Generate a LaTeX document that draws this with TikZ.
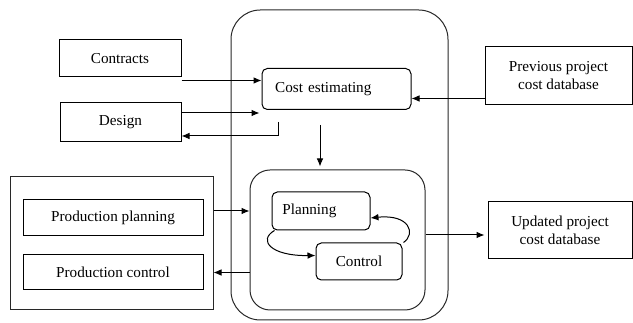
\documentclass[tikz,border=0pt]{standalone}
\usepackage{fontspec}
\setmainfont{Liberation Serif}
\usetikzlibrary{arrows.meta,calc}

\tikzset{
	box/.style={draw, line width=0.75pt, inner sep=0.75pt, align=center, font=\fontsize{11.4}{13.5}\selectfont},
	rbox/.style={box, rounded corners=4pt},
	frame/.style={draw, line width=0.75pt, color={rgb, 255:red, 40; green, 40; blue, 40 }},
	arr/.style={line width=0.75pt, -{Latex[length=6pt,width=5pt]}}
}

\begin{document}
\begin{tikzpicture}[x=0.75pt,y=0.75pt,yscale=-1,xscale=1]
	\useasboundingbox (0,0) rectangle (633,323);
	% frames
	\node (outer) at (339.5,165) [frame, rounded corners=22pt, minimum width=162.75pt, minimum height=232.5pt] {};
	\node (inner) at (337.5,240) [frame, rounded corners=15pt, minimum width=131.25pt, minimum height=105pt] {};
	\node (prod) at (111.5,243.5) [frame, minimum width=152.25pt, minimum height=99.75pt] {};
	% boxes
	\node (contracts) at (120,58.5) [box, minimum width=91.5pt, minimum height=27.75pt] {Contracts};
	\node (design) at (120.5,122.5) [box, minimum width=90.75pt, minimum height=29.25pt] {Design};
	\node (cost) at (336.5,89) [rbox, minimum width=111.75pt, minimum height=30.75pt, text width=92pt, align=left] {Cost estimating\\[6pt]};
	\node (prev) at (558.5,76) [box, minimum width=110.25pt, minimum height=43.5pt] {Previous project\\cost database};
	\node (planning) at (321,211) [rbox, minimum width=73.5pt, minimum height=28.5pt, text width=58pt, align=left] {Planning};
	\node (control) at (359,261.5) [rbox, minimum width=64.5pt, minimum height=27.75pt] {Control};
	\node (pplan) at (113,218) [box, minimum width=135pt, minimum height=27pt] {Production planning};
	\node (pcontrol) at (113,272.5) [box, minimum width=135pt, minimum height=26.25pt] {Production control};
	\node (updated) at (560,230.5) [box, minimum width=108pt, minimum height=42.75pt] {Updated project\\cost database};
	% connectors
	\coordinate (c1) at ($(contracts.south east)+(0,3)$);
	\draw [arr] (c1) -- (c1 -| cost.west);
	\coordinate (d1) at ($(design.east)+(0,-9.5)$);
	\draw [arr] (d1) -- ($(d1 -| cost.west)+(-2,0)$);
	\coordinate (d2) at ($(cost.south west)+(17,12)$);
	\draw [arr] (d2) |- ($(design.east)+(0,13.5)$);
	\coordinate (p1) at ($(prev.south west)+(0,-7)$);
	\draw [arr] (p1) -- (p1 -| cost.east);
	\draw [arr] ($(cost.south)+(-16.5,15)$) -- ($(inner.north)+(-17.5,-3)$);
	\coordinate (q1) at ($(pplan.east)+(0,-7)$);
	\draw [arr] (q1 -| prod.east) -- (q1 -| inner.west);
	\coordinate (q2) at (pcontrol.east);
	\draw [arr] (q2 -| inner.west) -- (q2 -| prod.east);
	\coordinate (u1) at ($(updated.west)+(0,4.5)$);
	\draw [arr] (u1 -| inner.east) -- ($(u1)+(-3,0)$);
	\draw [arr] ($(planning.south west)+(3,0)$) .. controls (258,240) and (270,256) .. ($(control.west)+(0,-6)$);
	\draw [arr] ($(control.north east)+(1,0)$) .. controls (416,234) and (410,214) .. ($(planning.east)+(0,7)$);
\end{tikzpicture}
\end{document}
